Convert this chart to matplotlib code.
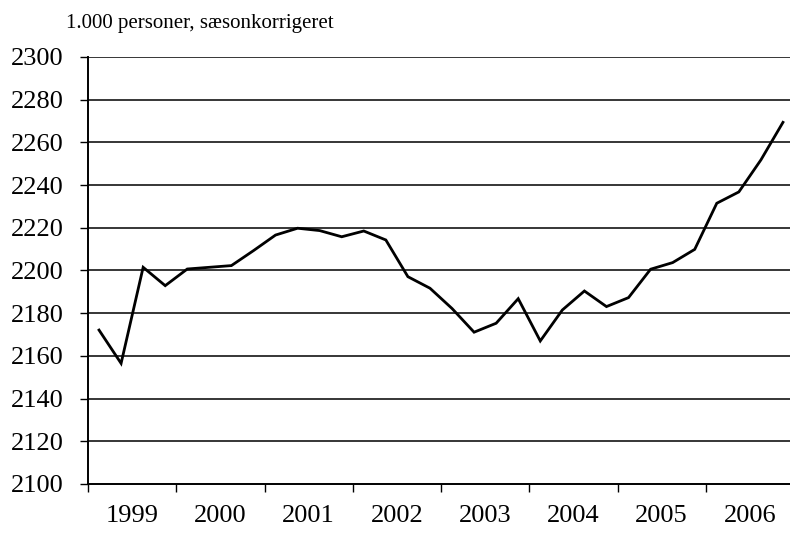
import numpy as np
import matplotlib.pyplot as plt
from matplotlib.ticker import FixedLocator, NullFormatter, FixedFormatter

# ----------------------------------------
# Data: quarterly values 1999Q1 - 2006Q4 (1.000 persons, seasonally adjusted)
# ----------------------------------------
years = ["1999", "2000", "2001", "2002", "2003", "2004", "2005", "2006"]
values = [
    2172.1, 2156.5, 2201.5, 2192.9,
    2200.7, 2201.5, 2202.3, 2209.3,
    2216.6, 2219.8, 2218.7, 2215.8,
    2218.5, 2214.3, 2197.1, 2191.7,
    2182.2, 2171.1, 2175.3, 2186.8,
    2167.0, 2181.5, 2190.4, 2183.1,
    2187.3, 2200.6, 2203.7, 2209.9,
    2231.5, 2236.8, 2251.8, 2269.4,
]
y_ticks = list(range(2100, 2301, 20))

plt.rcParams['font.family'] = ['Liberation Serif', 'DejaVu Serif']

fig = plt.figure(figsize=(7.9, 5.34), dpi=100)
ax = fig.add_axes([88 / 790, 50 / 534, (794 - 88) / 790, 427 / 534])

x = np.arange(len(values)) + 0.5
ax.plot(x, values, color="black", linewidth=2.0, solid_joinstyle="miter")

ax.set_xlim(0, len(values))
ax.set_ylim(2100, 2300)

# horizontal grid lines
for v in y_ticks[1:]:
    ax.axhline(v, color="black", linewidth=1.1, zorder=0)

ax.set_yticks(y_ticks)
ax.tick_params(axis="y", direction="out", length=5.8, width=1.0, labelsize=19, pad=12)

# year boundaries as major ticks, year labels centred on minor ticks
ax.xaxis.set_major_locator(FixedLocator(np.arange(0, len(values), 4)))
ax.xaxis.set_major_formatter(NullFormatter())
ax.xaxis.set_minor_locator(FixedLocator(np.arange(2, len(values), 4)))
ax.xaxis.set_minor_formatter(FixedFormatter(years))
ax.tick_params(axis="x", which="major", direction="out", length=5.8, width=1.0)
ax.tick_params(axis="x", which="minor", length=0, labelsize=19, pad=15)

for side in ["top", "right"]:
    ax.spines[side].set_visible(False)
for side in ["left", "bottom"]:
    ax.spines[side].set_linewidth(1.4)

fig.text(66 / 790, 1 - 28 / 534, "1.000 personer, sæsonkorrigeret",
         fontsize=15, va="baseline", ha="left")

fig.savefig("out.png", dpi=100)
